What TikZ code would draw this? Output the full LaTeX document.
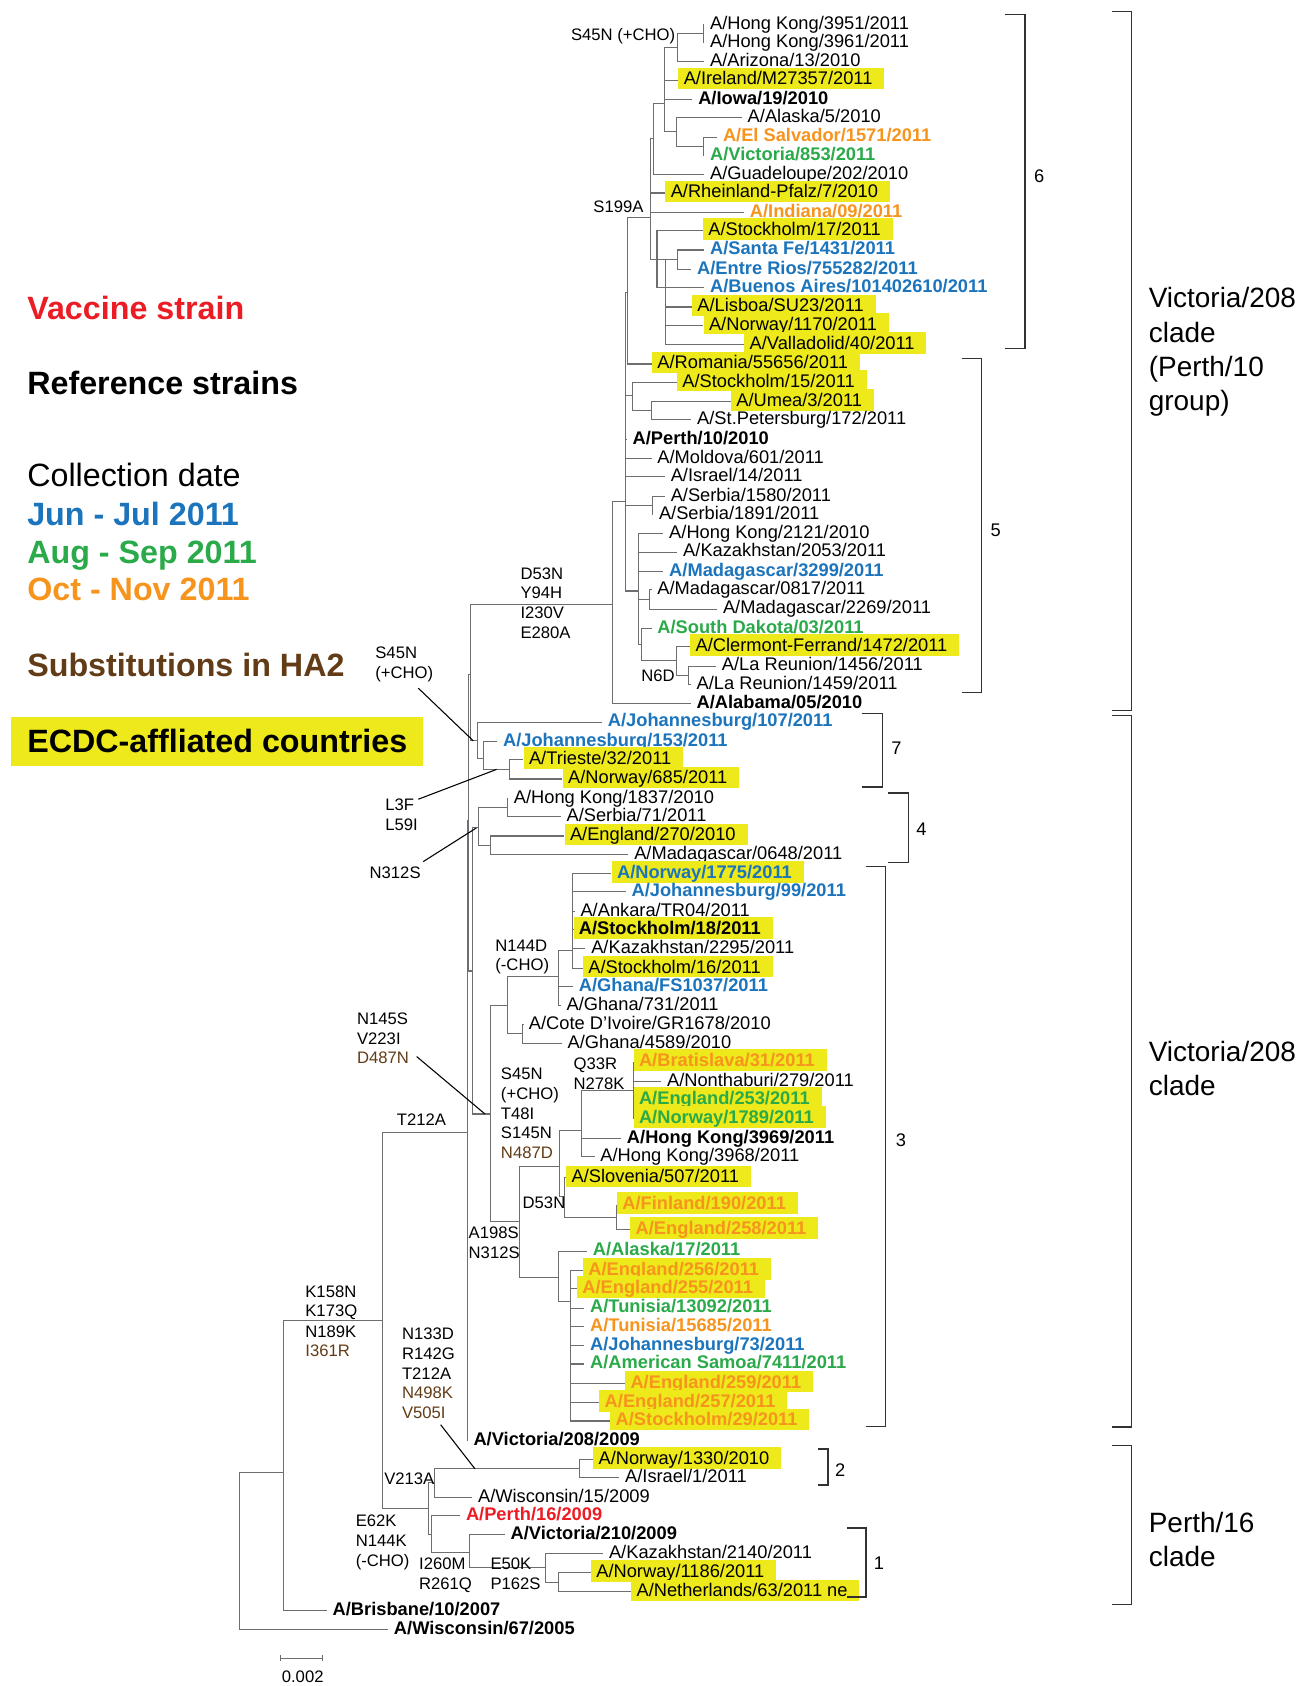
\documentclass[tikz,border=0pt]{standalone}
\usepackage{fontspec}
\setmainfont{Liberation Sans}
\definecolor{treeg}{RGB}{110,110,114}
\definecolor{bkc}{RGB}{50,50,50}
\definecolor{ecdc}{RGB}{237,233,26}
\definecolor{vred}{RGB}{236,28,36}
\definecolor{jblue}{RGB}{28,117,188}
\definecolor{agreen}{RGB}{43,170,74}
\definecolor{oorange}{RGB}{247,148,30}
\definecolor{hbrown}{RGB}{98,60,22}
\tikzset{
  br/.style={draw=treeg, line width=0.5pt},
  bk/.style={draw=bkc, line width=0.6pt},
  ptr/.style={draw=black, line width=0.5pt},
  lf/.style={anchor=west, inner xsep=2.5pt, inner ysep=0.5pt, text height=7.5pt, text depth=1.5pt, font=\fontsize{8.5}{10}\selectfont},
  hl/.style={fill=ecdc, execute at end node={\hspace{3pt}}},
  bo/.style={font=\fontsize{8.5}{10}\selectfont\bfseries},
  blb/.style={bo, text=jblue},
  grb/.style={bo, text=agreen},
  orb/.style={bo, text=oorange},
  redb/.style={bo, text=vred},
  mut/.style={anchor=west, inner sep=0pt, text height=5.6pt, text depth=0pt, font=\fontsize{7.75}{9}\selectfont},
  lg/.style={anchor=west, inner sep=0pt, text height=10.8pt, text depth=0pt, font=\fontsize{15}{18}\selectfont\bfseries},
  cl/.style={anchor=west, inner sep=0pt, text height=9.3pt, text depth=0pt, font=\fontsize{13}{15}\selectfont},
  num/.style={anchor=center, inner sep=0pt, text height=6pt, text depth=0pt, font=\fontsize{8.5}{10}\selectfont},
}
\newcommand\leaf[5]{\node[lf,#1] (#2) at (#3,#4) {#5};}
\newcommand\ed[2]{\foreach \kid in {#2}{\draw[br] (#1) |- (\kid);}}
\newcommand\el[2]{\foreach \kid in {#2}{\draw[br] (#1) |- ([yshift=-0.75pt]\kid.west);}}
\newcommand\mlab[5][]{\node[mut,#1] (#2) at (#3,#4) {#5};}
\begin{document}
\begin{tikzpicture}[x=0.5pt,y=-0.5pt]
\path[fill=white] (0,0) rectangle (1220,1568);
\useasboundingbox (0,0) rectangle (1220,1568);

% ---------- legend ----------
\node[lg, text=vred] (lvac) at (25,286) {Vaccine strain};
\node[lg] (lref) at (25,356) {Reference strains};
\node[lg, font=\fontsize{15}{18}\selectfont] (lcol) at (25,442) {Collection date};
\node[lg, text=jblue] (ljun) at (25,477.5) {Jun - Jul 2011};
\node[lg, text=agreen] (laug) at (25,513) {Aug - Sep 2011};
\node[lg, text=oorange] (loct) at (25,548) {Oct - Nov 2011};
\node[lg, text=hbrown] (lsub) at (25,618.5) {Substitutions in HA2};
\node[lg, fill=ecdc, inner xsep=7.5pt, inner ysep=4pt, text height=12.5pt, text depth=2pt] (lecdc) at (10,689.5) {ECDC-affliated countries};

% ---------- internal nodes ----------
\coordinate (root) at (222.5,1441);
\coordinate (r2) at (263.5,1369);
\coordinate (k158) at (355.8,1228);
\coordinate (v208) at (434.6,1053);
\coordinate (vA) at (435.5,763);
\coordinate (s45) at (437.7,627);
\coordinate (top) at (569.6,562);
\coordinate (p10) at (582,466.6);
\coordinate (s199) at (584,272);
\coordinate (nf) at (605,202.5);
\coordinate (ne) at (608,129);
\coordinate (nc) at (618.4,96);
\coordinate (na) at (630.5,44);
\coordinate (nhk) at (654,31);
\coordinate (nb) at (629.2,122);
\coordinate (nd) at (654,136);
\coordinate (ng) at (611,241);
\coordinate (nh) at (619,241);
\coordinate (nsf) at (630,241);
\coordinate (ns15) at (588,368);
\coordinate (nus) at (606,382);
\coordinate (nserb) at (606.8,470);
\coordinate (nmad) at (593.5,549.6);
\coordinate (nm08) at (604.4,557.5);
\coordinate (nsd) at (596.8,599);
\coordinate (nn6d) at (629,614);
\coordinate (nlar) at (640.6,628);
\coordinate (npair) at (444.2,689);
\coordinate (n7b) at (449.4,705);
\coordinate (ntn) at (473.6,715.5);
\coordinate (n312) at (439.3,903);
\coordinate (n4) at (445,770);
\coordinate (nhk18) at (471.6,751);
\coordinate (neng27) at (456.3,786);
\coordinate (n145) at (456.3,1036);
\coordinate (n144) at (471.8,935.5);
\coordinate (ng2) at (519.2,908);
\coordinate (nstk) at (532.5,884);
\coordinate (ncote) at (486,961.5);
\coordinate (na198) at (483.5,1136);
\coordinate (ns45b) at (520.7,1085);
\coordinate (nq33) at (540.9,1051);
\coordinate (nbrat) at (588.9,1014);
\coordinate (nd53) at (525.4,1113);
\coordinate (nfe) at (573.4,1132);
\coordinate (neng) at (519.2,1188);
\coordinate (nbig) at (530.7,1210);
\coordinate (ne62) at (398.5,1403);
\coordinate (nv213) at (404,1379);
\coordinate (n2) at (538.9,1366);
\coordinate (np16) at (401,1427);
\coordinate (ni260) at (436.7,1444);
\coordinate (ne50) at (507.7,1457.5);
\coordinate (nnn) at (519.4,1471.5);

% ---------- leaves ----------
\leaf{}{hk3951}{655}{21}{A/Hong Kong/3951/2011}
\leaf{}{hk3961}{655}{38}{A/Hong Kong/3961/2011}
\leaf{}{ariz}{655}{56}{A/Arizona/13/2010}
\leaf{hl}{irel}{630.5}{73}{A/Ireland/M27357/2011}
\leaf{bo}{iowa}{644}{91}{A/Iowa/19/2010}
\leaf{}{alas5}{690}{108}{A/Alaska/5/2010}
\leaf{orb}{elsal}{667}{126}{A/El Salvador/1571/2011}
\leaf{grb}{vic853}{655}{143}{A/Victoria/853/2011}
\leaf{}{guad}{655}{161}{A/Guadeloupe/202/2010}
\leaf{hl}{rhein}{618.4}{178}{A/Rheinland-Pfalz/7/2010}
\leaf{orb}{indi}{692}{196}{A/Indiana/09/2011}
\leaf{hl}{stk17}{653.4}{213}{A/Stockholm/17/2011}
\leaf{blb}{santa}{655}{231}{A/Santa Fe/1431/2011}
\leaf{blb}{entre}{643}{249}{A/Entre Rios/755282/2011}
\leaf{blb}{buen}{655}{266}{A/Buenos Aires/101402610/2011}
\leaf{hl}{lisb}{643.2}{284}{A/Lisboa/SU23/2011}
\leaf{hl}{nor1170}{654}{301}{A/Norway/1170/2011}
\leaf{hl}{vall}{691.8}{319}{A/Valladolid/40/2011}
\leaf{hl}{rom}{606}{337}{A/Romania/55656/2011}
\leaf{hl}{stk15}{629.2}{354}{A/Stockholm/15/2011}
\leaf{hl}{umea}{679.4}{372}{A/Umea/3/2011}
\leaf{}{stp}{643}{389}{A/St.Petersburg/172/2011}
\leaf{bo}{perth10}{583}{407}{A/Perth/10/2010}
\leaf{}{mold}{606}{425}{A/Moldova/601/2011}
\leaf{}{isr14}{618.4}{442}{A/Israel/14/2011}
\leaf{}{serb1580}{618.4}{460}{A/Serbia/1580/2011}
\leaf{}{serb1891}{607.5}{477}{A/Serbia/1891/2011}
\leaf{}{hk2121}{617}{495}{A/Hong Kong/2121/2010}
\leaf{}{kaz2053}{630}{512}{A/Kazakhstan/2053/2011}
\leaf{blb}{mad3299}{617}{530}{A/Madagascar/3299/2011}
\leaf{}{mad0817}{606}{547}{A/Madagascar/0817/2011}
\leaf{}{mad2269}{667}{565}{A/Madagascar/2269/2011}
\leaf{grb}{sdak}{606}{583}{A/South Dakota/03/2011}
\leaf{hl}{clerm}{641.6}{600}{A/Clermont-Ferrand/1472/2011}
\leaf{}{lar1456}{666}{618}{A/La Reunion/1456/2011}
\leaf{}{lar1459}{642.5}{635}{A/La Reunion/1459/2011}
\leaf{bo}{alab}{642.5}{653}{A/Alabama/05/2010}
\leaf{blb}{jhb107}{560}{670}{A/Johannesburg/107/2011}
\leaf{blb}{jhb153}{462.5}{688}{A/Johannesburg/153/2011}
\leaf{hl}{triest}{486.6}{705}{A/Trieste/32/2011}
\leaf{hl}{nor685}{523}{723}{A/Norway/685/2011}
\leaf{}{hk1837}{472.5}{741}{A/Hong Kong/1837/2010}
\leaf{}{serb71}{521.5}{758}{A/Serbia/71/2011}
\leaf{hl}{eng270}{524.7}{776}{A/England/270/2010}
\leaf{}{mad0648}{584.5}{793}{A/Madagascar/0648/2011}
\leaf{blb,hl}{nor1775}{568.5}{811}{A/Norway/1775/2011}
\leaf{blb}{jhb99}{582}{828}{A/Johannesburg/99/2011}
\leaf{}{ankara}{534.5}{846}{A/Ankara/TR04/2011}
\leaf{bo,hl}{stk18}{533}{863}{A/Stockholm/18/2011}
\leaf{}{kaz2295}{544.5}{881}{A/Kazakhstan/2295/2011}
\leaf{hl}{stk16}{541.8}{899}{A/Stockholm/16/2011}
\leaf{blb}{ghfs}{533}{916}{A/Ghana/FS1037/2011}
\leaf{}{gh731}{521.5}{934}{A/Ghana/731/2011}
\leaf{}{cote}{486.5}{951}{A/Cote D’Ivoire/GR1678/2010}
\leaf{}{gh4589}{522.5}{969}{A/Ghana/4589/2010}
\leaf{orb,hl}{brat}{588.9}{986}{A/Bratislava/31/2011}
\leaf{}{nonth}{615}{1004}{A/Nonthaburi/279/2011}
\leaf{grb,hl}{eng253}{588.9}{1021}{A/England/253/2011}
\leaf{grb,hl}{nor1789}{588.9}{1039}{A/Norway/1789/2011}
\leaf{bo}{hk3969}{577.7}{1057}{A/Hong Kong/3969/2011}
\leaf{}{hk3968}{553}{1074}{A/Hong Kong/3968/2011}
\leaf{hl}{slov}{526.3}{1094}{A/Slovenia/507/2011}
\leaf{orb,hl}{finl}{573.4}{1119}{A/Finland/190/2011}
\leaf{orb,hl}{eng258}{585.8}{1142}{A/England/258/2011}
\leaf{grb}{alas17}{546}{1162}{A/Alaska/17/2011}
\leaf{orb,hl}{eng256}{541.8}{1180}{A/England/256/2011}
\leaf{orb,hl}{eng255}{536.2}{1197}{A/England/255/2011}
\leaf{grb}{tun13}{543.5}{1215}{A/Tunisia/13092/2011}
\leaf{orb}{tun15}{543.5}{1232}{A/Tunisia/15685/2011}
\leaf{blb}{jhb73}{543.5}{1250}{A/Johannesburg/73/2011}
\leaf{grb}{amsam}{543.5}{1267}{A/American Samoa/7411/2011}
\leaf{orb,hl}{eng259}{581}{1285}{A/England/259/2011}
\leaf{orb,hl}{eng257}{557}{1303}{A/England/257/2011}
\leaf{orb,hl}{stk29}{567.2}{1320}{A/Stockholm/29/2011}
\leaf{bo}{vic208}{435}{1338}{A/Victoria/208/2009}
\leaf{hl}{nor1330}{551.3}{1356}{A/Norway/1330/2010}
\leaf{}{isr1}{576}{1373}{A/Israel/1/2011}
\leaf{}{wis15}{439.2}{1391}{A/Wisconsin/15/2009}
\leaf{redb}{perth16}{428}{1408}{A/Perth/16/2009}
\leaf{bo}{vic210}{469.5}{1426}{A/Victoria/210/2009}
\leaf{}{kaz2140}{561}{1443}{A/Kazakhstan/2140/2011}
\leaf{hl}{nor1186}{549.2}{1461}{A/Norway/1186/2011}
\leaf{hl}{neth}{586.6}{1479}{A/Netherlands/63/2011 ne}
\leaf{bo}{bris}{304}{1496}{A/Brisbane/10/2007}
\leaf{bo}{wis67}{361}{1514}{A/Wisconsin/67/2005}

% ---------- branches ----------
\ed{root}{r2} \el{root}{wis67}
\ed{r2}{k158} \el{r2}{bris}
\ed{k158}{v208,ne62}
\ed{v208}{vA} \el{v208}{vic208}
\ed{vA}{s45,n312}
\ed{s45}{top,npair}
\ed{top}{p10} \el{top}{alab}
\ed{p10}{s199,ns15,nserb,nmad} \el{p10}{perth10,mold,isr14}
\ed{s199}{nf} \el{s199}{rom}
\ed{nf}{ne,ng} \el{nf}{rhein,indi}
\ed{ne}{nc} \el{ne}{guad}
\ed{nc}{na,nb} \el{nc}{irel,iowa}
\ed{na}{nhk} \el{na}{ariz}
\el{nhk}{hk3951,hk3961}
\ed{nb}{nd} \el{nb}{alas5}
\el{nd}{elsal,vic853}
\ed{ng}{nh} \el{ng}{stk17,buen}
\ed{nh}{nsf} \el{nh}{lisb,nor1170,vall}
\el{nsf}{santa,entre}
\ed{ns15}{nus} \el{ns15}{stk15}
\el{nus}{umea,stp}
\el{nserb}{serb1580,serb1891}
\ed{nmad}{nm08,nsd} \el{nmad}{hk2121,kaz2053,mad3299}
\el{nm08}{mad0817,mad2269}
\ed{nsd}{nn6d} \el{nsd}{sdak}
\ed{nn6d}{nlar} \el{nn6d}{clerm}
\el{nlar}{lar1456,lar1459}
\ed{npair}{n7b} \el{npair}{jhb107}
\ed{n7b}{ntn} \el{n7b}{jhb153}
\el{ntn}{triest,nor685}
\ed{n312}{n4,n145}
\ed{n4}{nhk18,neng27}
\el{nhk18}{hk1837,serb71}
\el{neng27}{eng270,mad0648}
\ed{n145}{n144,na198}
\ed{n144}{ng2,ncote}
\ed{ng2}{nstk} \el{ng2}{ghfs,gh731}
\el{nstk}{nor1775,jhb99,ankara,stk18,kaz2295,stk16}
\el{ncote}{cote,gh4589}
\ed{na198}{ns45b,neng}
\ed{ns45b}{nq33,nd53}
\ed{nq33}{nbrat} \el{nq33}{hk3969,hk3968}
\el{nbrat}{brat,nonth,eng253,nor1789}
\ed{nd53}{nfe} \el{nd53}{slov}
\el{nfe}{finl,eng258}
\ed{neng}{nbig} \el{neng}{alas17}
\el{nbig}{eng256,eng255,tun13,tun15,jhb73,amsam,eng259,eng257,stk29}
\ed{ne62}{nv213,np16}
\ed{nv213}{n2} \el{nv213}{wis15}
\el{n2}{nor1330,isr1}
\ed{np16}{ni260} \el{np16}{perth16}
\ed{ni260}{ne50} \el{ni260}{vic210}
\ed{ne50}{nnn} \el{ne50}{kaz2140}
\el{nnn}{nor1186,neth}

% ---------- substitution labels ----------
\mlab{mS45top}{530.7}{32.5}{S45N (+CHO)}
\mlab{mS199}{551.5}{192}{S199A}
\mlab{mD53a}{483.7}{533}{D53N}
\mlab{mY94}{483.7}{551}{Y94H}
\mlab{mI230}{483.7}{569.5}{I230V}
\mlab{mE280}{483.7}{588}{E280A}
\mlab{mN6D}{596}{628.5}{N6D}
\mlab{mS45b1}{348.7}{607}{S45N}
\mlab{mS45b2}{348.7}{625.5}{(+CHO)}
\mlab{mL3F}{358}{748.6}{L3F}
\mlab{mL59}{358}{767}{L59I}
\mlab{mN312a}{343.4}{811}{N312S}
\mlab{mN144D}{460.3}{879}{N144D}
\mlab{mCHOa}{460.3}{897.3}{(-CHO)}
\mlab{mN145S}{331.7}{947}{N145S}
\mlab{mV223}{331.7}{965.5}{V223I}
\mlab[text=hbrown]{mD487}{331.7}{983.5}{D487N}
\mlab{mQ33}{533}{989}{Q33R}
\mlab{mN278}{533}{1008}{N278K}
\mlab{mS45c1}{465.5}{998}{S45N}
\mlab{mS45c2}{465.5}{1016.7}{(+CHO)}
\mlab{mT48}{465.5}{1035.3}{T48I}
\mlab{mS145}{465.5}{1053.3}{S145N}
\mlab[text=hbrown]{mN487}{465.5}{1071.5}{N487D}
\mlab{mT212a}{368.8}{1041}{T212A}
\mlab{mD53b}{485.7}{1118}{D53N}
\mlab{mA198}{435.5}{1146}{A198S}
\mlab{mN312b}{435.5}{1165}{N312S}
\mlab{mK158}{283.6}{1201}{K158N}
\mlab{mK173}{283.6}{1219}{K173Q}
\mlab{mN189}{283.6}{1238}{N189K}
\mlab[text=hbrown]{mI361}{283.6}{1256}{I361R}
\mlab{mN133}{373.5}{1240}{N133D}
\mlab{mR142}{373.5}{1258.5}{R142G}
\mlab{mT212b}{373.5}{1277}{T212A}
\mlab[text=hbrown]{mN498}{373.5}{1295}{N498K}
\mlab[text=hbrown]{mV505}{373.5}{1313.6}{V505I}
\mlab{mV213}{357}{1375}{V213A}
\mlab{mE62}{330.5}{1414}{E62K}
\mlab{mN144K}{330.5}{1433}{N144K}
\mlab{mCHOb}{330.5}{1451}{(-CHO)}
\mlab{mI260}{389.4}{1454}{I260M}
\mlab{mR261}{389.4}{1473}{R261Q}
\mlab{mE50}{455.8}{1454}{E50K}
\mlab{mP162}{455.8}{1473}{P162S}

% ---------- pointer lines ----------
\coordinate (pa1) at (389,640);   \coordinate (pa2) at (440.2,689);
\coordinate (pb1) at (389,743.3); \coordinate (pb2) at (461.9,715.5);
\coordinate (pc1) at (393.6,801.3); \coordinate (pc2) at (443,770);
\coordinate (pd1) at (387.5,982.6); \coordinate (pd2) at (451,1036);
\coordinate (pe1) at (409.8,1325); \coordinate (pe2) at (441.7,1366);
\draw[ptr] (pa1) -- (pa2);
\draw[ptr] (pb1) -- (pb2);
\draw[ptr] (pc1) -- (pc2);
\draw[ptr] (pd1) -- (pd2);
\draw[ptr] (pe1) -- (pe2);

% ---------- cluster brackets ----------
\draw[bk] (934.6,13.6) -- (953.2,13.6) -- (953.2,323.8) -- (934.6,323.8);
\draw[bk] (894.2,333.5) -- (912.8,333.5) -- (912.8,644) -- (894.2,644);
\draw[bk] (801.2,663.6) -- (820.8,663.6) -- (820.8,731.8) -- (801.2,731.8);
\draw[bk] (826,737.5) -- (844.6,737.5) -- (844.6,802) -- (826,802);
\draw[bk] (805,806) -- (823.5,806) -- (823.5,1326.5) -- (805,1326.5);
\draw[bk] (761,1347.7) -- (770,1347.7) -- (770,1381) -- (761,1381);
\draw[bk] (787.9,1421) -- (805.3,1421) -- (805.3,1485.3) -- (787.9,1485.3);
\node[num] (c6) at (966.5,164) {6};
\node[num] (c5) at (926,493) {5};
\node[num] (c7) at (833.8,696) {7};
\node[num] (c4) at (857,771) {4};
\node[num] (c3) at (838,1060) {3};
\node[num] (c2) at (781.5,1367) {2};
\node[num] (c1) at (817.5,1454) {1};

% ---------- clade brackets ----------
\draw[bk] (1033.7,10.7) -- (1052.6,10.7) -- (1052.6,660.7) -- (1033.7,660.7);
\draw[bk] (1033.7,665.5) -- (1052.6,665.5) -- (1052.6,1327) -- (1033.7,1327);
\draw[bk] (1033.7,1344.5) -- (1052.6,1344.5) -- (1052.6,1492) -- (1033.7,1492);
\node[cl] (ca1) at (1068,277) {Victoria/208};
\node[cl] (ca2) at (1068,309) {clade};
\node[cl] (ca3) at (1068,341) {(Perth/10};
\node[cl] (ca4) at (1068,372.5) {group)};
\node[cl] (cb1) at (1068,978) {Victoria/208};
\node[cl] (cb2) at (1068,1009.5) {clade};
\node[cl] (cc1) at (1068,1416) {Perth/16};
\node[cl] (cc2) at (1068,1447.5) {clade};

% ---------- scale bar ----------
\coordinate (sb1) at (260.7,1542); \coordinate (sb2) at (300.2,1542);
\draw[br] (sb1) -- (sb2);
\draw[br] ([yshift=1.5pt]sb1) -- ([yshift=-1.5pt]sb1);
\draw[br] ([yshift=1.5pt]sb2) -- ([yshift=-1.5pt]sb2);
\node[mut, anchor=center] (sblab) at (281.5,1559.5) {0.002};
\end{tikzpicture}
\end{document}
